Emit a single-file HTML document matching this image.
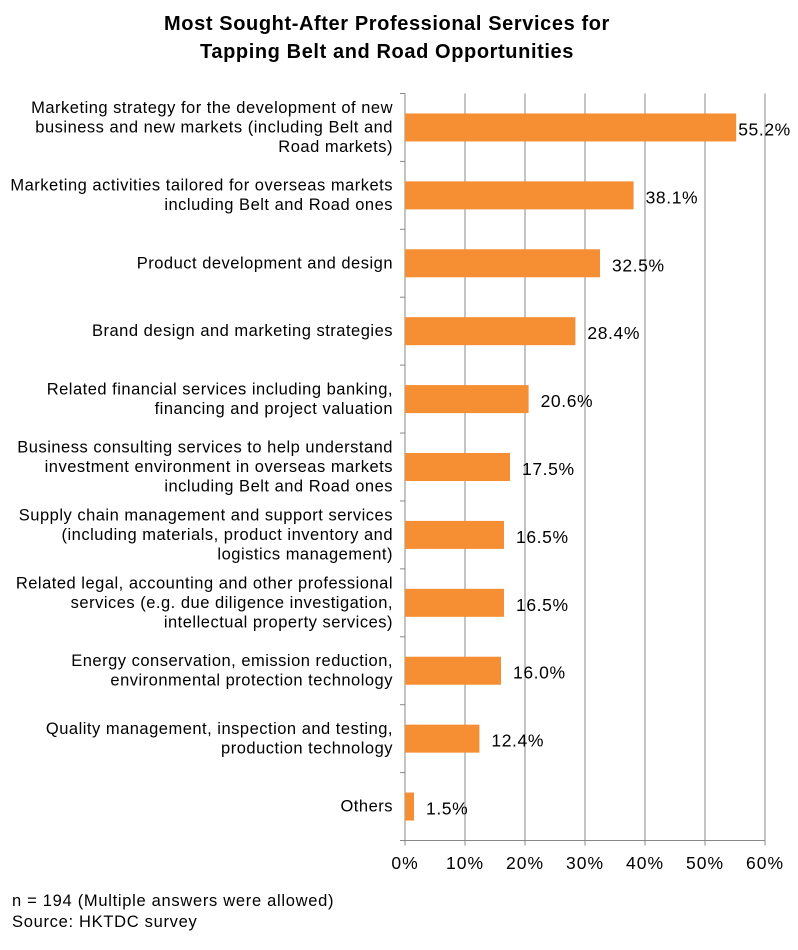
<!DOCTYPE html>
<html><head><meta charset="utf-8"><style>
body{margin:0;background:#fff;font-family:"Liberation Sans",Arial,sans-serif}
svg text{font-family:"Liberation Sans",Arial,sans-serif}
</style></head><body>
<svg id="c" width="798" height="945" xmlns="http://www.w3.org/2000/svg">
<text x="387" y="30" text-anchor="middle" font-size="20" font-weight="bold" letter-spacing="0.6">Most Sought-After Professional Services for</text>
<text x="387" y="58" text-anchor="middle" font-size="20" font-weight="bold" letter-spacing="0.6">Tapping Belt and Road Opportunities</text>
<g id="grid"></g><g id="bars"></g><g id="cats"></g><g id="ticks"></g>
<text x="12" y="906" font-size="16.5" letter-spacing="0.7">n = 194 (Multiple answers were allowed)</text>
<text x="12" y="927" font-size="16.5" letter-spacing="0.7">Source: HKTDC survey</text>
</svg>
<script>
const categories=[
["Marketing strategy for the development of new","business and new markets (including Belt and","Road markets)"],
["Marketing activities tailored for overseas markets","including Belt and Road ones"],
["Product development and design"],
["Brand design and marketing strategies"],
["Related financial services including banking,","financing and project valuation"],
["Business consulting services to help understand","investment environment in overseas markets","including Belt and Road ones"],
["Supply chain management and support services","(including materials, product inventory and","logistics management)"],
["Related legal, accounting and other professional","services (e.g. due diligence investigation,","intellectual property services)"],
["Energy conservation, emission reduction,","environmental protection technology"],
["Quality management, inspection and testing,","production technology"],
["Others"]];
const values=[55.2,38.1,32.5,28.4,20.6,17.5,16.5,16.5,16.0,12.4,1.5];
const tickValues=[0,10,20,30,40,50,60];
const tickLabels=["0%","10%","20%","30%","40%","50%","60%"];
const NS="http://www.w3.org/2000/svg";
const X0=405,X1=765,Y0=93.5,Y1=840.5,MAX=60;
const band=(Y1-Y0)/categories.length;
const xs=v=>X0+(v/MAX)*(X1-X0);
const yc=i=>Y0+band*(i+0.5);
function mk(tag,attrs,parent){const e=document.createElementNS(NS,tag);for(const k in attrs)e.setAttribute(k,attrs[k]);parent.appendChild(e);return e;}
const grid=document.getElementById('grid'),bars=document.getElementById('bars'),cats=document.getElementById('cats'),ticks=document.getElementById('ticks');
tickValues.forEach((t,i)=>{
 const l=mk('line',{x1:xs(t),x2:xs(t),y1:Y0,y2:Y1+5,stroke:'#888','stroke-width':1},grid);
 
 
 const tx=mk('text',{x:xs(t),y:869,'text-anchor':'middle','font-size':17.5,'letter-spacing':1},ticks);
 tx.textContent=tickLabels[i];
 
 
});
const ax=mk('line',{x1:X0,x2:X1,y1:Y1,y2:Y1,stroke:'#888','stroke-width':1},grid);


for(let i=0;i<=categories.length;i++){
 const y=Y0+band*i;
 const tk=mk('line',{x1:X0-5,x2:X0,y1:y,y2:y,stroke:'#888'},grid);
 
 
}
values.forEach((v,i)=>{
 const h=28,y=yc(i);
 const r=mk('rect',{x:X0,y:y-h/2,width:xs(v)-X0,height:h,fill:'#f68e33'},bars);
 
 
 const t=mk('text',{x:Math.min(xs(v)+12,Math.max(738,xs(v)+2)),y:y+8,'font-size':17.5,'letter-spacing':0.6},bars);
 t.textContent=v.toFixed(1)+'%';
 
 
 const lines=categories[i],lh=19.5,top=y-(lines.length-1)*lh/2+5;
 const ct=mk('text',{x:393,y:top,'text-anchor':'end','font-size':16.5,'letter-spacing':0.5},cats);
 
 
 lines.forEach((s,j)=>{const ts=mk('tspan',{x:393,dy:j?lh:0},ct);ts.textContent=s;});
});
</script>
</body></html>
